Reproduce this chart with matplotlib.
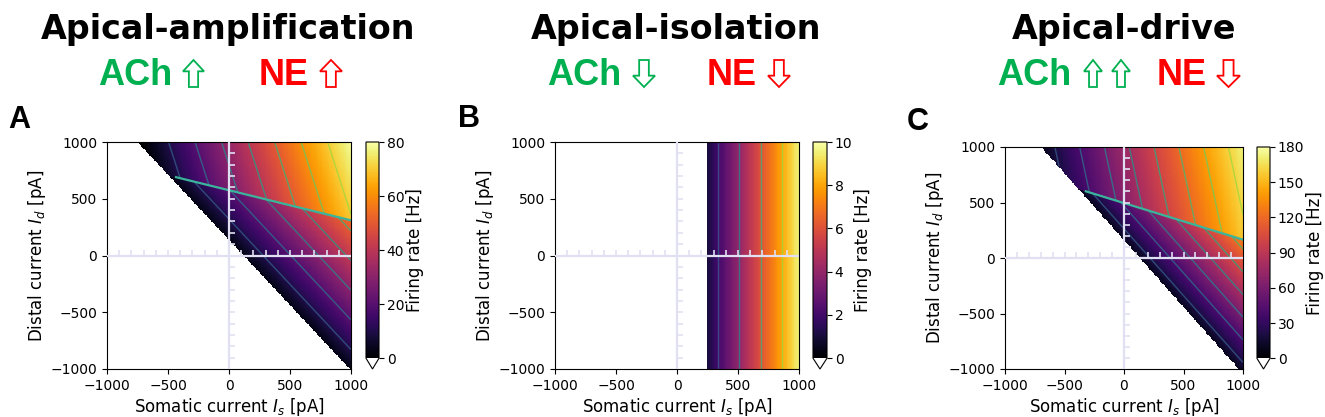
import numpy as np
import matplotlib.pyplot as plt
from matplotlib.patches import Polygon

W, H = 1325, 417

##### values #####
titles = ['Apical-amplification', 'Apical-isolation', 'Apical-drive']
letters = ['A', 'B', 'C']
ach_arrows = [['up'], ['down'], ['up', 'up']]
ne_arrows = [['up'], ['down'], ['down']]

rate_max = [80, 10, 180]
cbar_ticks = [[0, 20, 40, 60, 80],
              [0, 2, 4, 6, 8, 10],
              [0, 30, 60, 90, 120, 150, 180]]
contour_levels = [[10, 20, 30, 40, 50, 60, 70],
                  [2, 4, 6, 8],
                  [20, 40, 60, 80, 100, 120, 140, 160]]

# firing starts where Is + distal_gain * Id > onset_current  (pA)
onset_current = [120, 240, 134]
distal_gain = [0.87, 0.0, 0.83]
# regular firing: rate = tonic_base + tonic_slope * (drive - onset)
tonic_base = [3.0, 0.9, 10.0]
tonic_slope = [0.044, 0.0114, 0.118]
# burst branch, above the line Id = burst_id0 + burst_tilt * Is
burst_id0 = [575, None, 495]
burst_tilt = [-0.265, None, -0.33]
burst_is0 = [-713, None, -664]      # burst onset along Id = 1000 pA
burst_base = [0.0, None, 12.0]
burst_slope = [0.046, None, 0.096]
burst_dist = [0.3, None, 0.2]

##### layout (pixels of the 1325x417 picture) #####
ax_boxes = [(107, 142, 351, 369), (555, 142, 799, 369), (1005, 147, 1243, 369)]
cb_boxes = [(366, 142, 379, 369), (813, 142, 827, 369), (1257, 147, 1270, 369)]
title_x = [228, 676, 1124]
letter_xy = [(8, 128), (458, 127), (907, 130)]
ach_x = [98, 547, 997]
ach_arrow_x = [[(183, 204)], [(633, 655)], [(1084, 1102), (1112, 1130)]]
ne_x = [259, 707, 1157]
ne_arrow_x = [[(320, 342)], [(768, 790)], [(1217, 1240)]]

GREEN = '#00b050'
RED = '#ff0000'
CROSS = '#e0e0f2'

fig = plt.figure(figsize=(W / 100, H / 100), dpi=100)


def rect(box):
    x0, y0, x1, y1 = box
    return [x0 / W, 1 - y1 / H, (x1 - x0) / W, (y1 - y0) / H]


def draw_arrow(x0, x1, up, color, y_top=60, y_bot=87):
    shape = [(0.28, 0), (0.72, 0), (0.72, 0.58), (1, 0.58), (0.5, 1), (0, 0.58), (0.28, 0.58)]
    pts = []
    for sx, sy in shape:
        if not up:
            sy = 1 - sy
        px = x0 + sx * (x1 - x0)
        py = y_bot - sy * (y_bot - y_top)
        pts.append((px / W, 1 - py / H))
    fig.add_artist(Polygon(pts, closed=True, transform=fig.transFigure,
                           fc='white', ec=color, lw=1.3))


i_axis = np.linspace(-1000, 1000, 201)
IS, ID = np.meshgrid(i_axis, i_axis)

cmap = plt.get_cmap('inferno').copy()
cmap.set_under('white')
cmap.set_bad('white')

for k in range(3):
    ##### rate map #####
    drive = IS + distal_gain[k] * ID
    on = drive > onset_current[k]
    rate = tonic_base[k] + tonic_slope[k] * (drive - onset_current[k])
    R = np.where(on, rate, -1.0)
    burst = np.zeros_like(on)
    if burst_id0[k] is not None:
        burst = on & (ID > burst_id0[k] + burst_tilt[k] * IS)
        br = burst_base[k] + burst_slope[k] * (IS - burst_is0[k] + burst_dist[k] * (ID - 1000))
        R = np.where(burst, np.maximum(br, 0), R)

    ax = fig.add_axes(rect(ax_boxes[k]))
    im = ax.imshow(R, extent=[-1000, 1000, -1000, 1000], origin='lower', aspect='auto',
                   cmap=cmap, vmin=0, vmax=rate_max[k], interpolation='nearest')

    lev = contour_levels[k]
    lcol = plt.cm.viridis(np.linspace(0.3, 0.85, len(lev)))
    for region in [on & ~burst, burst]:
        if region.any():
            ax.contour(IS, ID, np.ma.masked_where(~region, R), levels=lev,
                       colors=lcol, linewidths=1.0, alpha=0.75)

    if burst_id0[k] is not None:
        a = distal_gain[k]
        is_start = (onset_current[k] - a * burst_id0[k]) / (1 + a * burst_tilt[k])
        is_line = np.linspace(is_start + 60, 1000, 60)
        ax.plot(is_line, burst_id0[k] + burst_tilt[k] * is_line, color='#3ab59c', lw=1.6)

    # cross at zero with small ticks
    tk = np.arange(-900, 1000, 100)
    ax.axhline(0, color=CROSS, lw=1.6, zorder=5)
    ax.axvline(0, color=CROSS, lw=1.6, zorder=5)
    ax.plot(tk, np.zeros_like(tk), ls='none', marker=2, ms=4, mew=1.2, color=CROSS, zorder=5)
    ax.plot(np.zeros_like(tk), tk, ls='none', marker=1, ms=4, mew=1.2, color=CROSS, zorder=5)

    ax.set_xlim(-1000, 1000)
    ax.set_ylim(-1000, 1000)
    ax.set_xticks([-1000, -500, 0, 500, 1000])
    ax.set_yticks([-1000, -500, 0, 500, 1000])
    ax.tick_params(labelsize=10)
    ax.set_xlabel('Somatic current $I_s$ [pA]', fontsize=12, labelpad=2)
    ax.set_ylabel('Distal current $I_d$ [pA]', fontsize=12, labelpad=2)

    cax = fig.add_axes(rect(cb_boxes[k]))
    cb = fig.colorbar(im, cax=cax, extend='min', ticks=cbar_ticks[k])
    cb.ax.tick_params(labelsize=10, pad=2)
    cb.set_label('Firing rate [Hz]', fontsize=12, labelpad=1)

    ##### headers #####
    fig.text(title_x[k] / W, 1 - 39 / H, titles[k], ha='center', va='baseline',
             fontsize=24, fontweight='bold', family=['DejaVu Sans'])
    fig.text(letter_xy[k][0] / W, 1 - letter_xy[k][1] / H, letters[k], ha='left', va='baseline',
             fontsize=22, fontweight='bold', family=['Liberation Sans', 'DejaVu Sans'])
    fig.text(ach_x[k] / W, 1 - 85 / H, 'ACh', ha='left', va='baseline', color=GREEN,
             fontsize=26, fontweight='bold', family=['Liberation Sans', 'DejaVu Sans'])
    fig.text(ne_x[k] / W, 1 - 85 / H, 'NE', ha='left', va='baseline', color=RED,
             fontsize=26, fontweight='bold', family=['Liberation Sans', 'DejaVu Sans'])
    for (x0, x1), d in zip(ach_arrow_x[k], ach_arrows[k]):
        draw_arrow(x0, x1, d == 'up', GREEN)
    for (x0, x1), d in zip(ne_arrow_x[k], ne_arrows[k]):
        draw_arrow(x0, x1, d == 'up', RED)

fig.savefig('out.png', dpi=100)
